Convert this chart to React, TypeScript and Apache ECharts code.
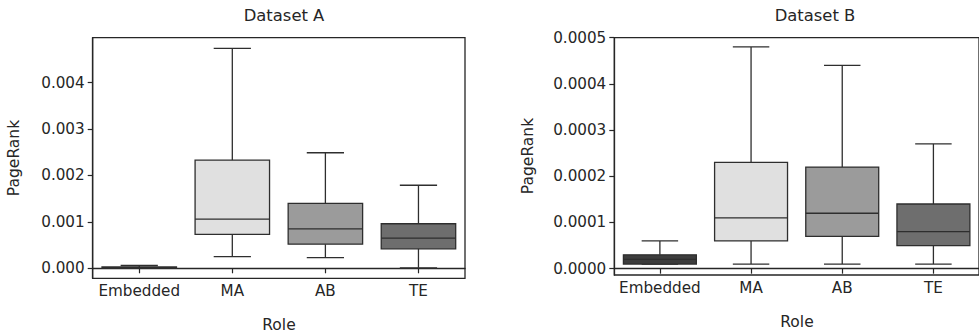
import React, { useEffect, useRef } from "react";
import * as echarts from "echarts";

const categories = ["Embedded", "MA", "AB", "TE"];
// [min, Q1, median, Q3, max]
const statsA = [
  [0.0, 0.000005, 0.00001, 0.00003, 0.00006],
  [0.00025, 0.00073, 0.00106, 0.00233, 0.00474],
  [0.00023, 0.00052, 0.00085, 0.0014, 0.00249],
  [0.00001, 0.00042, 0.00065, 0.00096, 0.00179],
];
const statsB = [
  [0.00001, 0.00001, 0.00002, 0.00003, 0.00006],
  [0.00001, 0.00006, 0.00011, 0.00023, 0.00048],
  [0.00001, 0.00007, 0.00012, 0.00022, 0.00044],
  [0.00001, 0.00005, 0.00008, 0.00014, 0.00027],
];
const ticksA = [0, 0.001, 0.002, 0.003, 0.004];
const ticksB = [0, 0.0001, 0.0002, 0.0003, 0.0004, 0.0005];

const fills = ["#3d3d3d", "#e0e0e0", "#9b9b9b", "#6e6e6e"];
const edge = "#2e2e2e";
const textColor = "#262626";
const FONT = "DejaVu Sans";

function renderBox(params: any, api: any) {
  const idx = api.value(0);
  const pMin = api.coord([idx, api.value(1)]);
  const pQ1 = api.coord([idx, api.value(2)]);
  const pMed = api.coord([idx, api.value(3)]);
  const pQ3 = api.coord([idx, api.value(4)]);
  const pMax = api.coord([idx, api.value(5)]);
  const band = api.size([1, 0])[0];
  const cx = pMed[0];
  const hw = band * 0.4;
  const cw = band * 0.2;
  const ls = { stroke: edge, lineWidth: 1.3 };
  return {
    type: "group",
    children: [
      { type: "line", shape: { x1: cx, y1: pQ3[1], x2: cx, y2: pMax[1] }, style: ls },
      { type: "line", shape: { x1: cx, y1: pQ1[1], x2: cx, y2: pMin[1] }, style: ls },
      { type: "line", shape: { x1: cx - cw, y1: pMax[1], x2: cx + cw, y2: pMax[1] }, style: ls },
      { type: "line", shape: { x1: cx - cw, y1: pMin[1], x2: cx + cw, y2: pMin[1] }, style: ls },
      {
        type: "rect",
        shape: { x: cx - hw, y: pQ3[1], width: hw * 2, height: pQ1[1] - pQ3[1] },
        style: { fill: fills[idx % fills.length], stroke: edge, lineWidth: 1.3 },
      },
      { type: "line", shape: { x1: cx - hw, y1: pMed[1], x2: cx + hw, y2: pMed[1] }, style: ls },
    ],
  };
}

function toData(stats: number[][]) {
  return stats.map((s, i) => [i, ...s]);
}

export default function App() {
  const ref = useRef<HTMLDivElement>(null);
  useEffect(() => {
    if (!ref.current) return;
    const chart = echarts.init(ref.current, null, { renderer: "svg" });
    const axisLabelStyle = { color: textColor, fontFamily: FONT, fontSize: 15.2 };
    const mkX = (gi: number) => ({
      type: "category",
      gridIndex: gi,
      data: categories,
      boundaryGap: true,
      axisLine: { show: true, lineStyle: { color: textColor, width: 1.3 } },
      axisTick: { show: true, alignWithLabel: true, length: 5, lineStyle: { color: textColor, width: 1.2 } },
      axisLabel: { ...axisLabelStyle, margin: 5, interval: 0 },
      splitLine: { show: false },
    });
    const mkY = (gi: number, min: number, max: number, ticks: number[], dec: number) => ({
      type: "value",
      gridIndex: gi,
      min,
      max,
      axisLine: { show: true, lineStyle: { color: textColor, width: 1.3 } },
      axisTick: { show: true, length: 5, customValues: ticks, lineStyle: { color: textColor, width: 1.2 } },
      axisLabel: {
        ...axisLabelStyle,
        margin: 8,
        customValues: ticks,
        formatter: (v: number) => v.toFixed(dec),
      },
      splitLine: { show: false },
    });
    const nameFont = `15.5px "${FONT}"`;
    chart.setOption({
      animation: false,
      backgroundColor: "#ffffff",
      title: [
        {
          text: "Dataset A",
          left: 279,
          top: 2,
          textAlign: "center",
          textStyle: { color: textColor, fontFamily: FONT, fontSize: 16.4, fontWeight: "normal" },
        },
        {
          text: "Dataset B",
          left: 810,
          top: 2,
          textAlign: "center",
          textStyle: { color: textColor, fontFamily: FONT, fontSize: 16.4, fontWeight: "normal" },
        },
      ],
      grid: [
        { left: 92.7, top: 37.7, width: 372.3, height: 240.6, show: true, borderColor: textColor, borderWidth: 1.3, containLabel: false },
        { left: 614.3, top: 37.7, width: 367, height: 237.3, show: true, borderColor: textColor, borderWidth: 1.3, containLabel: false },
      ],
      xAxis: [mkX(0), mkX(1)],
      yAxis: [mkY(0, -0.000216, 0.00497, ticksA, 3), mkY(1, -0.0000137, 0.0005, ticksB, 4)],
      graphic: [
        { type: "text", x: 14, y: 158, rotation: Math.PI / 2, style: { text: "PageRank", fill: textColor, font: nameFont, align: "center", verticalAlign: "middle" } },
        { type: "text", x: 528, y: 156, rotation: Math.PI / 2, style: { text: "PageRank", fill: textColor, font: nameFont, align: "center", verticalAlign: "middle" } },
        { type: "text", x: 279, y: 325, style: { text: "Role", fill: textColor, font: nameFont, align: "center", verticalAlign: "middle" } },
        { type: "text", x: 797, y: 322, style: { text: "Role", fill: textColor, font: nameFont, align: "center", verticalAlign: "middle" } },
      ],
      series: [
        {
          type: "custom",
          xAxisIndex: 0,
          yAxisIndex: 0,
          renderItem: renderBox,
          encode: { x: 0, y: [1, 2, 3, 4, 5] },
          data: toData(statsA),
        },
        {
          type: "custom",
          xAxisIndex: 1,
          yAxisIndex: 1,
          renderItem: renderBox,
          encode: { x: 0, y: [1, 2, 3, 4, 5] },
          data: toData(statsB),
        },
      ],
    });
    return () => chart.dispose();
  }, []);
  return (
    <div
      ref={ref}
      style={{ position: "absolute", left: 0, top: 0, width: 979, height: 335 }}
    />
  );
}
